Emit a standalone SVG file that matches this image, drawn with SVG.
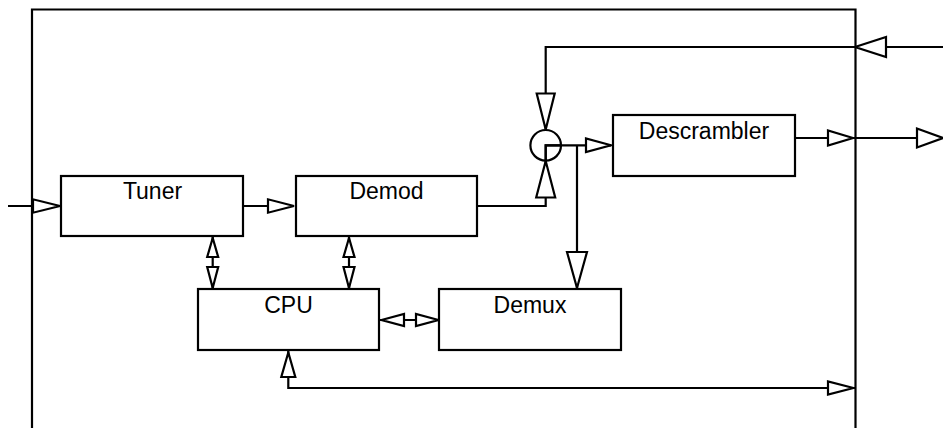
<svg xmlns="http://www.w3.org/2000/svg" width="943" height="428" viewBox="0 0 943 428">
<style>
.box{fill:#fff;stroke:#000;stroke-width:2.2}
.ln{fill:none;stroke:#000;stroke-width:2.2}
.arr{fill:#fff;stroke:#000;stroke-width:2.2;stroke-linejoin:miter}
.lbl{font-family:"Liberation Sans",Arial,sans-serif;font-size:23px;fill:#000;text-anchor:middle}
</style>
<rect width="943" height="428" fill="#fff"/>
<g id="frame">
<path class="ln" d="M32,430 V9.5 H855.5 V430"/>
</g>
<g id="connectors">
<path class="ln" d="M8,206 H60"/>
<path class="ln" d="M243,206 H294"/>
<path class="ln" d="M477,206 H545.7 V161"/>
<path class="ln" d="M943,47 H545.7 V129.5"/>
<path class="ln" d="M545.7,160.5 V145.3 H611"/>
<path class="ln" d="M577,145.3 V288"/>
<path class="ln" d="M795,138 H943"/>
<path class="ln" d="M212.7,236 V289"/>
<path class="ln" d="M349,236 V289"/>
<path class="ln" d="M379,320 H439"/>
<path class="ln" d="M288.3,350 V388 H855"/>
<polygon class="arr" points="60,206 33,199.3 33,212.7"/>
<polygon class="arr" points="294,206 268,199.3 268,212.7"/>
<polygon class="arr" points="545.7,161 536.2,197.5 555.2,197.5"/>
<polygon class="arr" points="545.7,129.5 536.7,93.5 554.7,93.5"/>
<polygon class="arr" points="855,47 886,37 886,57"/>
<polygon class="arr" points="611,145.3 586,138.5 586,152.1"/>
<polygon class="arr" points="853,138 828,130.5 828,145.5"/>
<polygon class="arr" points="943,138 917,128.5 917,147.5"/>
<polygon class="arr" points="577,288 567,252 587,252"/>
<polygon class="arr" points="212.7,238 207.2,257 218.2,257"/>
<polygon class="arr" points="212.7,288 207.2,267 218.2,267"/>
<polygon class="arr" points="349,238 343.5,257 354.5,257"/>
<polygon class="arr" points="349,288 343.5,267 354.5,267"/>
<polygon class="arr" points="381.5,320 404,314 404,326"/>
<polygon class="arr" points="438.5,320 416,314 416,326"/>
<polygon class="arr" points="288.3,352.5 281.3,377 295.3,377"/>
<polygon class="arr" points="853.5,388 828,381.5 828,394.5"/>
</g>
<g id="mixer">
<circle cx="545.7" cy="145.3" r="15.3" fill="none" stroke="#000" stroke-width="2.2"/>
<path class="ln" d="M545.7,160.5 V145.3 H561"/>
</g>
<g id="tuner">
<rect class="box" x="61" y="176" width="182" height="60"/>
<text class="lbl" x="152.5" y="199">Tuner</text>
</g>
<g id="demod">
<rect class="box" x="296" y="176" width="181" height="60"/>
<text class="lbl" x="386.5" y="199">Demod</text>
</g>
<g id="cpu">
<rect class="box" x="198" y="289" width="181" height="61"/>
<text class="lbl" x="288.5" y="312.5">CPU</text>
</g>
<g id="demux">
<rect class="box" x="439" y="289" width="182" height="61"/>
<text class="lbl" x="530" y="312.5">Demux</text>
</g>
<g id="descrambler">
<rect class="box" x="613" y="115" width="182" height="61"/>
<text class="lbl" x="704" y="138.5">Descrambler</text>
</g>
</svg>
